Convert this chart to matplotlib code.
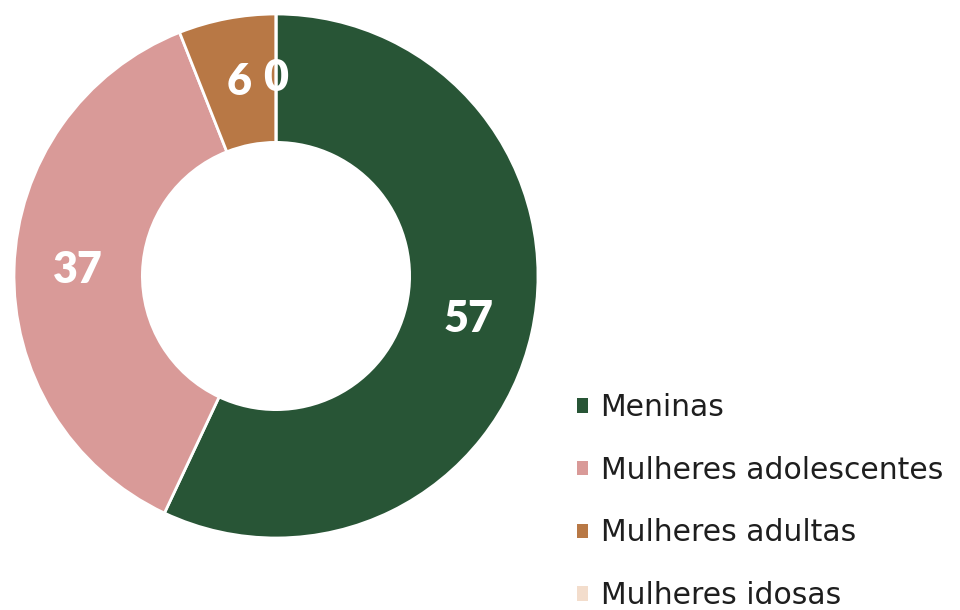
import matplotlib
matplotlib.use("Agg")
import matplotlib.pyplot as plt
from matplotlib.patches import Patch
import numpy as np

categories = ["Meninas", "Mulheres adolescentes", "Mulheres adultas", "Mulheres idosas"]
values = [57, 37, 6, 0]
colors = ["#285536", "#D99A98", "#B87845", "#F3DDCC"]

fig = plt.figure(figsize=(9.6, 6.1), dpi=100)
ax = fig.add_axes([14/960, 72/610, 524/960, 524/610])

wedges, _ = ax.pie(values, colors=colors, startangle=90, counterclock=False,
                   radius=1.0, wedgeprops=dict(width=0.49, edgecolor="white", linewidth=2))
ax.set_xlim(-1, 1)
ax.set_ylim(-1, 1)
ax.set_aspect("equal")

total = sum(values)
cum = 0
r_lab = 0.755
for v in values:
    mid = cum + v / 2
    ang = np.deg2rad(90 - 360 * mid / total)
    ax.text(r_lab * np.cos(ang), r_lab * np.sin(ang), str(v), ha="center", va="center",
            color="white", fontsize=31, fontweight="heavy", family="Lato")
    cum += v

handles = [Patch(facecolor=c, edgecolor="none") for c in colors]
leg = fig.legend(handles, categories, loc="upper left", bbox_to_anchor=(577/960, 1 - 393/610),
                 frameon=False, prop=dict(family="DejaVu Sans", size=21.5),
                 handlelength=0.37, handleheight=0.37,
                 handletextpad=0.42, labelspacing=1.13, borderaxespad=0, borderpad=0)
for t in leg.get_texts():
    t.set_color("#1e1e1e")

fig.savefig("out.png", dpi=100)
